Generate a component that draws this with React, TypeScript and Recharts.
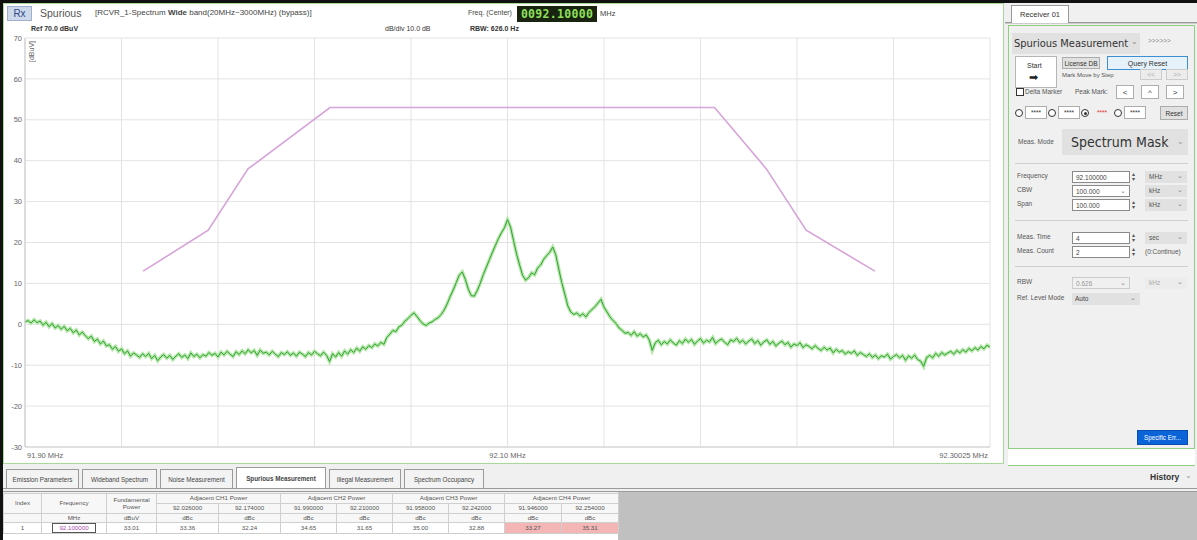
import React from 'react'
import { LineChart, Line, XAxis, YAxis, CartesianGrid } from 'recharts'

const FONT = '"Liberation Sans", Arial, sans-serif'

// sweep: 91.90 MHz .. 92.30025 MHz, trace in dBuV
const sweepStartMHz = 91.9
const sweepStopMHz = 92.30025

const traceDbuv = [
  0.6, 0.9, 0.3, 1.1, 0.4, 0.8, -0.2, 0.5, -0.6, 0.2, -0.9, -0.3, -1.2, -0.5, -1.6, -1.0, -2.1, -1.4, -2.6, -1.9,
  -2.8, -3.5, -2.9, -4.2, -3.6, -4.8, -4.1, -5.3, -5.0, -6.1, -5.4, -6.6, -6.0, -7.2, -6.5, -7.8, -7.0, -7.5, -8.1, -7.2,
  -7.9, -7.1, -8.4, -7.6, -8.9, -8.0, -7.4, -8.3, -7.6, -8.6, -7.8, -7.2, -8.1, -7.5, -8.4, -7.0, -7.9, -7.3, -8.2, -7.4,
  -7.8, -6.9, -7.6, -7.1, -8.0, -6.8, -7.5, -6.6, -7.3, -7.9, -6.7, -7.4, -6.5, -7.2, -6.2, -7.0, -6.4, -7.6, -6.3, -7.1,
  -6.8, -7.5, -6.6, -7.3, -7.9, -6.9, -7.4, -6.7, -7.6, -7.0, -7.8, -6.8, -7.3, -7.9, -6.9, -7.5, -6.6, -7.2, -7.7, -6.8,
  -7.6, -9.1, -7.2, -8.0, -6.9, -7.8, -6.5, -7.3, -6.2, -6.9, -5.8, -6.6, -5.5, -6.1, -5.2, -5.7, -4.8, -5.3, -4.4, -4.9,
  -3.2, -2.4, -1.5, -1.8, -0.6, -0.2, 0.8, 1.4, 2.2, 2.8, 1.9, 0.9, 0.1, -0.3, 0.3, 0.6, 1.2, 1.6, 2.4, 3.5,
  5.0, 6.8, 8.4, 10.2, 12.0, 12.8, 11.0, 8.6, 7.0, 6.9, 8.3, 10.1, 12.2, 14.0, 15.8, 17.6, 19.3, 21.0, 22.4, 23.6,
  25.6, 23.8, 20.5, 17.2, 14.5, 12.0, 10.8, 11.4, 12.6, 12.1, 13.8, 14.5, 15.9, 16.8, 17.6, 18.9, 17.0, 13.5, 10.2, 7.4,
  4.5, 3.0, 2.4, 2.8, 2.0, 2.6, 1.8, 2.9, 3.6, 4.3, 5.2, 6.1, 4.2, 3.0, 1.8, 0.9, 0.2, -0.9, -1.5, -2.2,
  -2.0, -2.7, -1.8, -2.9, -2.3, -3.1, -2.6, -3.8, -6.4, -4.5, -3.9, -5.0, -4.2, -4.8, -3.8, -4.6, -5.1, -4.0, -4.7, -3.6,
  -4.4, -3.7, -4.9, -4.1, -3.5, -4.6, -3.9, -4.3, -3.2, -4.7, -4.0, -3.6, -4.4, -5.0, -3.8, -4.2, -3.4, -4.5, -3.9, -4.8,
  -4.1, -3.6, -4.7, -4.0, -5.1, -4.3, -3.8, -4.9, -4.2, -5.3, -4.6, -4.1, -5.0, -4.4, -5.6, -4.8, -5.2, -4.5, -5.7, -5.0,
  -5.4, -6.0, -5.2, -5.9, -6.4, -5.6, -6.3, -5.8, -7.0, -6.1, -6.8, -6.4, -7.3, -6.7, -7.1, -6.5, -7.6, -6.9, -7.4, -7.9,
  -7.2, -8.1, -7.5, -8.4, -7.7, -8.0, -7.3, -8.5, -7.9, -7.4, -8.2, -7.6, -8.8, -7.7, -8.3, -7.5, -8.6, -9.0, -10.3, -8.1,
  -7.6, -8.2, -7.1, -7.8, -6.9, -7.5, -7.0, -6.6, -7.3, -6.4, -7.0, -6.2, -6.8, -5.9, -6.5, -5.7, -6.3, -5.4, -6.0, -5.1, -5.6,
]

// spectrum mask corners
const maskFreqMHz = [91.949, 91.976, 91.9925, 92.0265, 92.186, 92.2075, 92.224, 92.2525]
const maskDbuv = [13, 23, 38, 53, 53, 38, 23, 13]

const yTicks = [-30, -20, -10, 0, 10, 20, 30, 40, 50, 60, 70]
const xGridMHz = [91.9, 91.940025, 91.98005, 92.020075, 92.0601, 92.100125, 92.14015, 92.180175, 92.2202, 92.260225, 92.30025]
const xTickLabels = ['91.90 MHz', '', '', '', '', '92.10 MHz', '', '', '', '', '92.30025 MHz']

// result table
const bottomTabs = ['Emission Parameters', 'Wideband Spectrum', 'Noise Measurement', 'Spurious Measurement', 'Illegal Measurement', 'Spectrum Occupancy']
const tabX = [6, 82, 160, 236, 329, 404, 487]
const adjGroups = ['Adjacent CH1 Power', 'Adjacent CH2 Power', 'Adjacent CH3 Power', 'Adjacent CH4 Power']
const adjFreqs = ['92.026000', '92.174000', '91.990000', '92.210000', '91.958000', '92.242000', '91.946000', '92.254000']
const adjValues = ['33.36', '32.24', '34.65', '31.65', '35.00', '32.88', '33.27', '35.31']
const colX = [3, 41, 106, 156, 218, 280, 336, 392, 448, 504, 561, 618]

const traceData = traceDbuv.map((v, i) => ({
  f: sweepStartMHz + (i * (sweepStopMHz - sweepStartMHz)) / (traceDbuv.length - 1),
  v,
}))
const maskData = maskFreqMHz.map((f, i) => ({ f, v: maskDbuv[i] }))

function Box({ x, y, w, h, style, children }: any) {
  return (
    <div style={{ position: 'absolute', left: x, top: y, width: w, height: h, boxSizing: 'border-box', ...style }}>
      {children}
    </div>
  )
}

function Txt({ x, y, s = 7, c = '#444', style, children }: any) {
  return (
    <div style={{ position: 'absolute', left: x, top: y, fontSize: s, color: c, whiteSpace: 'nowrap', lineHeight: 1, ...style }}>
      {children}
    </div>
  )
}

function Btn({ x, y, w, h, text, s = 7, bg = '#e1e1e1', bd = '#adadad', c = '#333' }: any) {
  return (
    <Box x={x} y={y} w={w} h={h} style={{ background: bg, border: `1px solid ${bd}`, color: c, fontSize: s, display: 'flex', alignItems: 'center', justifyContent: 'center', whiteSpace: 'nowrap' }}>
      {text}
    </Box>
  )
}

function Field({ y, label, value, unit, spin = true, drop = false, disabled = false, unitText }: any) {
  return (
    <>
      <Txt x={1017} y={y + 2} s={6.5} c="#555">{label}</Txt>
      <Box x={1072} y={y} w={58} h={12} style={{ background: disabled ? '#f0f0f0' : '#fff', border: `1px solid ${disabled ? '#ccc' : '#8a8a8a'}`, fontSize: 6.5, color: disabled ? '#999' : '#444', padding: '2px 0 0 3px' }}>
        {value}
        {drop && <span style={{ position: 'absolute', right: 3, top: 1, color: '#888' }}>⌄</span>}
      </Box>
      {spin && <Txt x={1132} y={y + 1} s={6} c="#555" style={{ lineHeight: 0.8 }}>▴<br />▾</Txt>}
      {unit && (
        <Box x={1145} y={y} w={42} h={12} style={{ background: disabled ? '#ececec' : '#e1e1e1', fontSize: 6.5, color: disabled ? '#aaa' : '#555', padding: '2px 0 0 4px' }}>
          {unit}
          <span style={{ position: 'absolute', right: 4, top: 1, color: '#888' }}>⌄</span>
        </Box>
      )}
      {unitText && <Txt x={1145} y={y + 3} s={6.5} c="#555">{unitText}</Txt>}
    </>
  )
}

function XTick({ x, y, index }: any) {
  const label = xTickLabels[index]
  if (!label) return <g />
  const last = index === xTickLabels.length - 1
  const anchor = index === 0 ? 'start' : last ? 'end' : 'middle'
  return (
    <text x={x + (index === 0 ? 2 : last ? -2 : 0)} y={y + 9} textAnchor={anchor} fontSize={7.5} fill="#666" fontFamily={FONT}>
      {label}
    </text>
  )
}

function Cell({ i, j = i, y, h, text, bg = '#f7f7f7', c = '#555', children }: any) {
  return (
    <Box x={colX[i]} y={y} w={colX[j + 1] - colX[i] + 1} h={h + 1} style={{ background: bg, border: '1px solid #cfcfcf', fontSize: 6.2, color: c, display: 'flex', alignItems: 'center', justifyContent: 'center', textAlign: 'center', lineHeight: 1.1 }}>
      {children ?? text}
    </Box>
  )
}

export default function App() {
  return (
    <div style={{ position: 'fixed', left: 0, top: 0, width: 1197, height: 540, background: '#f0f0f0', overflow: 'hidden', fontFamily: FONT }}>
      {/* main spectrum panel */}
      <Box x={3} y={3} w={1001} h={461} style={{ background: '#fff', border: '1px solid #a8d89a' }} />

      {/* header rows */}
      <Box x={7} y={6} w={25} h={15} style={{ background: '#cdd8ea', border: '1px solid #9fb0cc', color: '#2a4a8a', fontSize: 10, display: 'flex', alignItems: 'center', justifyContent: 'center' }}>Rx</Box>
      <Txt x={40} y={8} s={10.5} c="#555">Spurious</Txt>
      <Txt x={95} y={9} s={8} c="#444">[RCVR_1-Spectrum <b>Wide</b> band(20MHz~3000MHz) (bypass)]</Txt>
      <Txt x={468} y={9} s={7} c="#444">Freq. (Center)</Txt>
      <Box x={517} y={6} w={80} h={16} style={{ background: '#18240f', color: '#8fe05a', fontFamily: '"DejaVu Sans Mono", monospace', fontWeight: 700, fontSize: 11.5, letterSpacing: 0.3, display: 'flex', alignItems: 'center', justifyContent: 'center' }}>0092.10000</Box>
      <Txt x={600} y={10} s={7.5} c="#444">MHz</Txt>
      <Txt x={31} y={25} s={7} c="#333" style={{ fontWeight: 700 }}>Ref 70.0 dBuV</Txt>
      <Txt x={385} y={25} s={7} c="#333">dB/div 10.0 dB</Txt>
      <Txt x={470} y={25} s={7} c="#333" style={{ fontWeight: 700 }}>RBW: 626.0 Hz</Txt>

      <div style={{ position: 'absolute', left: 0, top: 0 }}>
        <LineChart width={1000} height={470} margin={{ top: 38, right: 10, left: 0, bottom: 0 }}>
          <CartesianGrid stroke="#e3e3e3" strokeWidth={1} />
          <XAxis
            dataKey="f"
            type="number"
            domain={[sweepStartMHz, sweepStopMHz]}
            ticks={xGridMHz}
            interval={0}
            height={23}
            allowDataOverflow
            axisLine={{ stroke: '#cfcfcf' }}
            tickLine={false}
            tickSize={0}
            tick={<XTick />}
          />
          <YAxis
            type="number"
            domain={[-30, 70]}
            ticks={yTicks}
            interval={0}
            width={25}
            axisLine={{ stroke: '#c8c8c8' }}
            tickLine={false}
            tickSize={0}
            tickMargin={3}
            tick={{ fontSize: 7.5, fill: '#666', fontFamily: FONT }}
          />
          <Line data={maskData} dataKey="v" stroke="#d7a3d9" strokeWidth={1.6} dot={false} isAnimationActive={false} />
          <Line data={traceData} dataKey="v" stroke="#b3e8a8" strokeWidth={3.5} dot={false} isAnimationActive={false} />
          <Line data={traceData} dataKey="v" stroke="#35a035" strokeWidth={1} dot={false} isAnimationActive={false} />
        </LineChart>
      </div>
      <Txt x={28} y={41} s={7} c="#666" style={{ writingMode: 'vertical-rl', transform: 'rotate(180deg)' }}>[dBuV]</Txt>

      {/* frame borders */}
      <Box x={0} y={0} w={1197} h={3} style={{ background: '#111' }} />
      <Box x={0} y={0} w={3} h={540} style={{ background: '#111' }} />

      {/* right control panel */}
      <Box x={1005} y={22} w={192} h={2} style={{ borderTop: '1px solid #999', borderBottom: '1px solid #ccc' }} />
      <Box x={1011} y={5} w={58} h={18} style={{ background: '#fff', border: '1px solid #999', borderBottom: 'none', fontSize: 7.5, color: '#333', display: 'flex', alignItems: 'center', justifyContent: 'center' }}>Receiver 01</Box>
      <Box x={1008} y={25} w={187} h={424} style={{ background: '#f0f0f0', border: '1px solid #8fcf80' }} />
      <Box x={1008} y={449} w={187} h={17} style={{ background: '#fff', borderBottom: '1px solid #8fcf80' }} />

      <Box x={1012} y={33} w={128} h={21} style={{ background: '#e1e1e1' }} />
      <Txt x={1014} y={38} s={11} c="#333" style={{ fontFamily: '"DejaVu Sans Condensed", "Liberation Sans Narrow", sans-serif' }}>Spurious Measurement</Txt>
      <Txt x={1131} y={38} s={8} c="#888">⌄</Txt>
      <Txt x={1148} y={38} s={6.5} c="#888">&gt;&gt;&gt;&gt;&gt;&gt;</Txt>

      <Box x={1015} y={56} w={42} h={32} style={{ background: '#fff', border: '1px solid #b5b5b5' }} />
      <Txt x={1027} y={62} s={7} c="#333">Start</Txt>
      <Txt x={1029} y={72} s={11} c="#222">➡</Txt>
      <Btn x={1062} y={57} w={38} h={12} text="License DB" s={6.5} />
      <Btn x={1107} y={56} w={81} h={14} text="Query Reset" s={7} bg="#e5f1fb" bd="#3c8fd0" />
      <Txt x={1062} y={72} s={6} c="#555">Mark Move by Step</Txt>
      <Btn x={1140} y={69} w={22} h={11} text="<<" s={6.5} c="#aaa" bd="#ccc" bg="#ececec" />
      <Btn x={1166} y={69} w={22} h={11} text=">>" s={6.5} c="#aaa" bd="#ccc" bg="#ececec" />

      <Box x={1016} y={88} w={8} h={8} style={{ background: '#fff', border: '1px solid #333' }} />
      <Txt x={1025} y={89} s={6.5} c="#555">Delta Marker</Txt>
      <Txt x={1075} y={89} s={6.5} c="#555">Peak Mark:</Txt>
      <Btn x={1116} y={85} w={18} h={14} text="<" s={8} bg="#fff" />
      <Btn x={1141} y={85} w={18} h={14} text="^" s={8} bg="#fff" />
      <Btn x={1166} y={85} w={18} h={14} text=">" s={8} bg="#fff" />

      {[1015, 1048, 1081, 1114].map((x, k) => (
        <React.Fragment key={x}>
          <Box x={x} y={109} w={8} h={8} style={{ borderRadius: 4, background: '#fff', border: '1px solid #333' }}>
            {k === 2 && <Box x={1.5} y={1.5} w={3} h={3} style={{ borderRadius: 2, background: '#333' }} />}
          </Box>
          <Btn x={x + 10} y={106} w={22} h={13} text="****" s={6.5} c={k === 2 ? '#e03030' : '#333'} bg={k === 2 ? '#f0f0f0' : '#fff'} bd={k === 2 ? '#f0f0f0' : '#adadad'} />
        </React.Fragment>
      ))}
      <Btn x={1160} y={106} w={28} h={14} text="Reset" s={6.5} />

      <Txt x={1018} y={139} s={6.5} c="#555">Meas. Mode</Txt>
      <Box x={1062} y={129} w={126} h={26} style={{ background: '#e1e1e1' }} />
      <Txt x={1071} y={135} s={14} c="#333" style={{ fontFamily: '"DejaVu Sans Condensed", "Liberation Sans Narrow", sans-serif' }}>Spectrum Mask</Txt>
      <Txt x={1177} y={138} s={8} c="#999">⌄</Txt>

      <Box x={1015} y={163} w={173} h={1} style={{ background: '#cfcfcf' }} />
      <Field y={171} label="Frequency" value="92.100000" unit="MHz" />
      <Field y={185} label="CBW" value="100.000" unit="kHz" spin={false} drop />
      <Field y={199} label="Span" value="100.000" unit="kHz" />
      <Box x={1015} y={220} w={173} h={1} style={{ background: '#cfcfcf' }} />
      <Field y={232} label="Meas. Time" value="4" unit="sec" />
      <Field y={246} label="Meas. Count" value="2" unitText="(0:Continue)" />
      <Box x={1015} y={266} w={173} h={1} style={{ background: '#cfcfcf' }} />
      <Field y={277} label="RBW" value="0.626" unit="kHz" spin={false} drop disabled />
      <Txt x={1017} y={295} s={6.5} c="#555">Ref. Level Mode</Txt>
      <Box x={1072} y={293} w={68} h={12} style={{ background: '#e1e1e1', fontSize: 6.5, color: '#444', padding: '2px 0 0 3px' }}>
        Auto<span style={{ position: 'absolute', right: 4, top: 1, color: '#888' }}>⌄</span>
      </Box>
      <Btn x={1137} y={430} w={51} h={15} text="Specific Err..." s={6.3} bg="#0a64d8" bd="#0a4fb0" c="#fff" />

      {/* bottom tab row */}
      {bottomTabs.map((t, k) => (
        <Box key={t} x={tabX[k]} y={k === 3 ? 467 : 469} w={tabX[k + 1] - tabX[k] - 3} h={k === 3 ? 21 : 19} style={{ background: k === 3 ? '#fff' : '#f3f3f3', border: '1px solid #9a9a9a', borderBottom: 'none', fontSize: 6.3, color: '#444', fontWeight: k === 3 ? 700 : 400, display: 'flex', alignItems: 'center', justifyContent: 'center', whiteSpace: 'nowrap' }}>
          {t}
        </Box>
      ))}
      <Txt x={1150} y={473} s={8.5} c="#333" style={{ fontWeight: 700 }}>History</Txt>
      <Txt x={1185} y={472} s={8} c="#999">⌄</Txt>
      <Box x={3} y={488} w={1194} h={4} style={{ borderTop: '1px solid #9a9a9a', borderBottom: '1px solid #9a9a9a' }} />

      {/* result table */}
      <Box x={618} y={492} w={579} h={48} style={{ background: '#c0c0c0' }} />
      <Cell i={0} y={493} h={20} text="Index" />
      <Cell i={1} y={493} h={20} text="Frequency" />
      <Cell i={2} y={493} h={20}>Fundamental<br />Power</Cell>
      {adjGroups.map((g, k) => (
        <Cell key={g} i={3 + k * 2} j={4 + k * 2} y={493} h={10} text={g} />
      ))}
      {adjFreqs.map((f, k) => (
        <Cell key={k} i={3 + k} y={503} h={10} text={f} />
      ))}
      <Cell i={0} y={513} h={9} text="" />
      <Cell i={1} y={513} h={9} text="MHz" />
      <Cell i={2} y={513} h={9} text="dBuV" />
      {adjFreqs.map((_, k) => (
        <Cell key={k} i={3 + k} y={513} h={9} text="dBc" />
      ))}
      <Cell i={0} y={522} h={11} text="1" bg="#fff" />
      <Cell i={1} y={522} h={11} bg="#fff">
        <div style={{ border: '1px solid #555', padding: '0 6px', color: '#b04ab0', lineHeight: 1.2 }}>92.100000</div>
      </Cell>
      <Cell i={2} y={522} h={11} text="33.01" bg="#fff" />
      {adjValues.map((v, k) => (
        <Cell key={k} i={3 + k} y={522} h={11} text={v} bg={k >= 6 ? '#f4b5b5' : '#fff'} />
      ))}
      <Box x={3} y={534} w={615} h={6} style={{ background: '#fff' }} />
    </div>
  )
}
